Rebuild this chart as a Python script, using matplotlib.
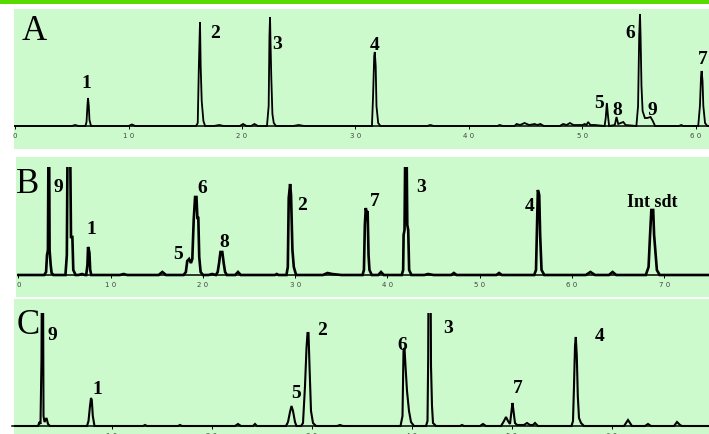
import matplotlib
matplotlib.use("Agg")
import matplotlib.pyplot as plt
from matplotlib.patches import Rectangle
from matplotlib.ticker import FixedLocator, FuncFormatter

# Chromatogram A (time in min, detector signal)
a_time = [0, 5.0, 5.3, 5.6, 6.2, 6.3, 6.38, 6.43, 6.5, 6.56, 6.7, 10.0, 10.3, 10.6,
          15.95, 16.1, 16.2, 16.3, 16.36, 16.45, 16.6, 16.75, 17.5, 18.0, 18.4,
          19.8, 20.1, 20.4, 20.8, 21.1, 21.4, 22.2, 22.35, 22.42, 22.47, 22.52, 22.58,
          22.68, 22.8, 23.0, 24.5, 25.0, 25.5, 31.45, 31.55, 31.65, 31.7, 31.78, 31.85,
          32.0, 32.2, 36.3, 36.6, 36.9, 42.5, 42.7, 43.0, 44.0, 44.2, 44.5, 44.9, 45.3,
          45.8, 46.0, 46.3, 46.6, 48.0, 48.3, 48.6, 48.9, 49.2, 50.0, 50.2, 50.35, 50.5,
          50.7, 51.1, 51.95, 52.05, 52.15, 52.25, 52.35, 52.85, 53.0, 53.15, 53.6,
          53.8, 54.75, 54.9, 55.0, 55.07, 55.12, 55.2, 55.3, 55.5, 55.7, 56.0, 56.2,
          56.4, 58.5, 58.7, 58.9, 60.2, 60.35, 60.45, 60.5, 60.58, 60.65, 60.8, 61.0,
          61.2]
a_signal = [0, 0, 1, 0, 0, 4, 20, 28, 20, 6, 0, 0, 1.5, 0,
            0, 3, 60, 104, 59, 25, 5, 0, 0, 1, 0,
            0, 2, 0, 0, 2, 0, 0, 20, 90, 109, 80, 49,
            12, 3, 0, 0, 1, 0, 0, 30, 70, 74, 60, 20,
            3, 0, 0, 1, 0, 0, 1, 0, 0, 2, 1, 3, 1,
            2, 1, 2, 0, 0, 2, 1, 3, 1, 1, 2, 1, 4,
            1, 1, 0, 8, 23, 10, 0, 1, 9, 2, 4,
            1, 0, 20, 90, 112, 90, 40, 15, 8, 8, 9, 5,
            0, 0, 1, 0, 0, 20, 50, 55, 45, 20, 3, 0,
            0]
a_labels = ["1", "2", "3", "4", "5", "8", "6", "9", "7"]

# Chromatogram B
b_time = [0, 2.8, 3.0, 3.1, 3.2, 3.3, 3.38, 3.5, 3.6, 3.8, 5.1, 5.25, 5.45, 5.7,
          5.85, 5.95, 6.2, 6.5, 6.9, 7.2, 7.35, 7.48, 7.55, 7.62, 7.7, 7.78, 7.9,
          11.0, 11.4, 11.8, 15.2, 15.6, 16.0, 17.9, 18.15, 18.3, 18.5, 18.7, 18.85,
          19.0, 19.15, 19.3, 19.4, 19.5, 19.6, 19.75, 20.0, 20.6, 21.0, 21.4, 21.6,
          21.75, 21.9, 22.1, 22.25, 22.4, 22.6, 23.5, 23.8, 24.1, 27.8, 28.0, 28.2,
          29.05, 29.2, 29.3, 29.45, 29.55, 29.7, 29.85, 30.1, 33.0, 33.5, 34.0, 35.0,
          37.3, 37.45, 37.55, 37.65, 37.75, 37.85, 37.95, 38.05, 38.3, 39.0, 39.3,
          39.6, 41.55, 41.7, 41.75, 41.85, 42.0, 42.15, 42.25, 42.35, 42.6, 44.0,
          44.4, 45.0, 46.9, 47.2, 47.5, 51.8, 52.1, 52.4, 55.9, 56.1, 56.2, 56.3,
          56.45, 56.55, 56.7, 57.0, 61.5, 62.0, 62.5, 64.0, 64.4, 64.8, 68.0, 68.3,
          68.45, 68.6, 68.8, 68.9, 69.05, 69.2, 69.5, 74.9]
b_signal = [0, 0, 3, 20, 25, 200, 25, 10, 2, 0, 0, 20, 300, 38,
            38, 5, 0, 0, 1, 0, 0, 10, 28, 26, 22, 5, 0,
            0, 1, 0, 0, 3, 0, 0, 3, 14, 16, 12, 16,
            55, 78, 78, 57, 57, 18, 3, 0, 0, 1, 0, 3,
            12, 23, 23, 12, 3, 0, 0, 3, 0, 0, 1, 0,
            0, 8, 77, 91, 80, 25, 8, 0, 0, 2, 1, 0,
            0, 5, 50, 67, 62, 64, 20, 5, 0, 0, 3,
            0, 0, 5, 40, 45, 200, 50, 45, 5, 0, 0,
            1, 0, 0, 2, 0, 0, 2, 0, 0, 5, 45, 85,
            80, 40, 5, 0, 0, 3, 0, 0, 3, 0, 0, 8,
            38, 65, 65, 40, 22, 5, 0, 0]
b_labels = ["9", "1", "5", "6", "8", "2", "7", "3", "4", "Int sdt"]

# Chromatogram C
c_time = [0, 2.6, 2.75, 2.85, 2.95, 3.05, 3.15, 3.25, 3.45, 3.6, 3.8, 7.5, 7.65,
          7.8, 7.9, 7.98, 8.08, 8.25, 13.1, 13.3, 13.5, 16.6, 16.8, 17.0, 22.3,
          22.6, 22.9, 24.1, 24.3, 24.5, 27.4, 27.6, 27.8, 27.95, 28.1, 28.3, 28.45,
          28.9, 29.1, 29.3, 29.45, 29.55, 29.65, 29.75, 29.9, 30.1, 30.4, 32.5, 32.8,
          33.1, 38.85, 39.05, 39.15, 39.25, 39.35, 39.5, 39.7, 39.9, 40.2, 41.4,
          41.55, 41.62, 41.75, 41.9, 42.0, 42.1, 42.4, 44.8, 45.0, 45.2, 46.8, 47.1,
          47.4, 48.9, 49.2, 49.4, 49.6, 49.8, 49.95, 50.05, 50.15, 50.3, 50.5, 51.2,
          51.5, 51.8, 52.1, 52.3, 52.6, 55.95, 56.1, 56.2, 56.3, 56.38, 56.48, 56.58,
          56.7, 56.9, 57.2, 61.2, 61.6, 62.0, 63.3, 63.6, 63.9, 66.2, 66.5, 66.8,
          67.0, 69.7]
c_signal = [0, 0, 4, 2, 68, 300, 10, 4, 8, 2, 0, 0, 5,
            20, 28, 26, 10, 0, 0, 1, 0, 0, 1, 0, 0,
            2, 0, 0, 2, 0, 0, 4, 14, 20, 15, 4, 0,
            0, 3, 40, 78, 93, 93, 60, 15, 3, 0, 0, 1,
            0, 0, 10, 75, 78, 60, 35, 15, 4, 0, 0,
            5, 69, 400, 60, 20, 3, 0, 0, 1, 0, 0, 2,
            0, 0, 5, 9, 5, 2, 15, 23, 15, 3, 1, 1,
            3, 1, 1, 3, 0, 0, 5, 40, 80, 89, 70, 30,
            8, 3, 0, 0, 6, 0, 0, 2, 0, 0, 4, 1,
            0, 0]
c_labels = ["9", "1", "5", "2", "6", "3", "7", "4"]

W, H = 709, 434
fig = plt.figure(figsize=(W / 100, H / 100), dpi=100)
fig.patch.set_facecolor("white")
# green strip at the very top
fig.patches.append(Rectangle((0, 1 - 4 / H), 1, 4 / H, transform=fig.transFigure,
                             facecolor="#58dc00", edgecolor="none"))


def make_axes(left, top, bottom):
    return fig.add_axes([left / W, 1 - bottom / H, (W - left) / W, (bottom - top) / H])


def tick_fmt(v, pos):
    return " ".join(str(int(round(v))))


def draw(ax, t, s, xlim, ylim, clip_top, lw, ticks, name, labels, label_xy):
    ax.set_facecolor("#ccfacc")
    ax.set_xlim(*xlim)
    ax.set_ylim(*ylim)
    line, = ax.plot(t, s, color="black", lw=lw, solid_joinstyle="miter")
    if clip_top is not None:
        rect = Rectangle((xlim[0], ylim[0]), xlim[1] - xlim[0], clip_top - ylim[0],
                         transform=ax.transData)
        line.set_clip_path(rect)
    for sp in ["top", "left", "right"]:
        ax.spines[sp].set_visible(False)
    ax.spines["bottom"].set_position(("data", 0))
    ax.spines["bottom"].set_bounds(0, xlim[1])
    ax.spines["bottom"].set_linewidth(1.1)
    ax.set_yticks([])
    ax.xaxis.set_major_locator(FixedLocator(ticks))
    ax.xaxis.set_major_formatter(FuncFormatter(tick_fmt))
    ax.tick_params(axis="x", direction="out", length=1.8, width=0.7, pad=3.5,
                   labelsize=5, labelcolor="#444444")
    ax.text(name[1], name[2], name[0], fontsize=25, family="Liberation Serif",
            ha="center", va="baseline")
    for lab, (x, y) in zip(labels, label_xy):
        ax.text(x, y, lab, fontsize=14 if lab != "Int sdt" else 13,
                family="Liberation Serif", weight="bold", ha="center", va="baseline")


ax_a = make_axes(14, 9, 149)
draw(ax_a, a_time, a_signal, (-0.09, 61.15), (-23, 117), None, 1.3,
     [0, 10, 20, 30, 40, 50, 60], ("A", 1.72, 86), a_labels,
     [(6.26, 38), (17.6, 88), (23.1, 77), (31.7, 76), (51.5, 18), (53.1, 11),
      (54.2, 88), (56.2, 11), (60.6, 62)])

ax_b = make_axes(16, 157, 297)
draw(ax_b, b_time, b_signal, (-0.26, 74.85), (-22, 118), 108, 1.9,
     [0, 10, 20, 30, 40, 50, 60, 70], ("B", 1.04, 82), b_labels,
     [(4.28, 83), (7.95, 41), (17.3, 16), (19.9, 82), (22.3, 28), (30.7, 65),
      (38.6, 69), (43.6, 83), (55.4, 64), (68.7, 68)])

ax_c = make_axes(14, 299, 434)
draw(ax_c, c_time, c_signal, (0.2, 69.7), (-8, 127), 113, 1.5,
     [0, 10, 20, 30, 40, 50, 60], ("C", 1.6, 92), c_labels,
     [(4.0, 86), (8.5, 32), (28.4, 28), (31.0, 91), (39.0, 76), (43.6, 93),
      (50.6, 33), (58.8, 85)])

fig.savefig("out.png", dpi=100)
